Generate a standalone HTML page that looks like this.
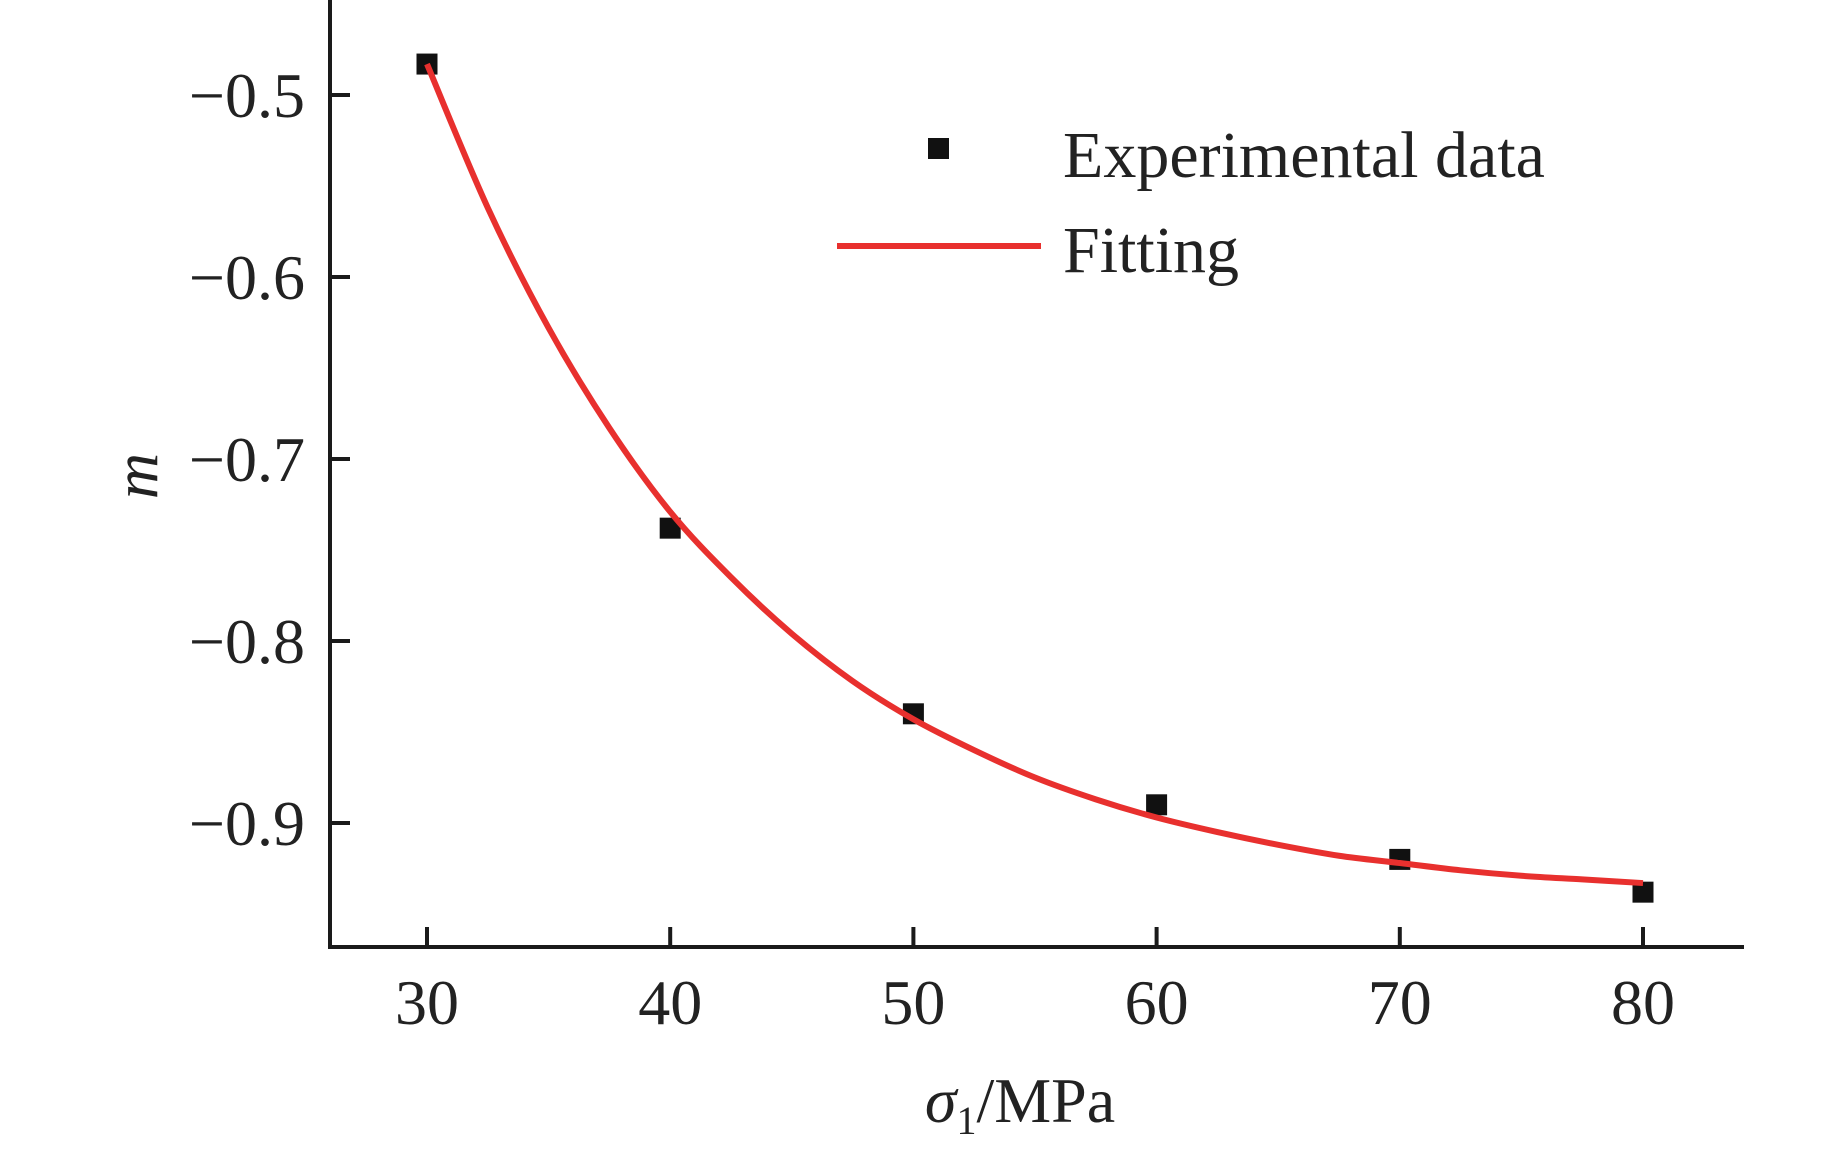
<!DOCTYPE html>
<html><head><meta charset="utf-8"><style>
html,body{margin:0;padding:0;background:#fff;}
svg{display:block;font-family:"Liberation Serif",serif;}
</style></head><body>
<svg id="chart" width="1843" height="1155" viewBox="0 0 1843 1155">
<g id="axes"></g>
<g id="series"></g>
<g id="legend">
  <rect x="928" y="138" width="21" height="21" fill="#111"/>
  <text x="1063" y="177" font-size="66" fill="#222">Experimental data</text>
  <line x1="837" y1="246" x2="1041" y2="246" stroke="#e8302e" stroke-width="6"/>
  <text x="1063" y="272" font-size="66" fill="#222">Fitting</text>
</g>
<text x="143" y="476" font-size="64" font-style="italic" fill="#222" text-anchor="middle" transform="rotate(-90 143 476)" dominant-baseline="middle">m</text>
<text x="1020" y="1122" font-size="64" fill="#222" text-anchor="middle"><tspan font-style="italic">σ</tspan><tspan font-size="40" dy="12">1</tspan><tspan dy="-12">/MPa</tspan></text>
</svg>
<script>
const xCategories = [30, 40, 50, 60, 70, 80];
const expValues = [-0.483, -0.738, -0.840, -0.890, -0.920, -0.938];
const fitX = [30, 32.5, 35, 37.5, 40, 42.5, 45, 47.5, 50, 52.5, 55, 57.5, 60, 62.5, 65, 67.5, 70, 72.5, 75, 77.5, 80];
const fitValues = [-0.483, -0.562, -0.628, -0.683, -0.729, -0.765, -0.796, -0.822, -0.843, -0.860, -0.875, -0.887, -0.897, -0.905, -0.912, -0.918, -0.922, -0.926, -0.929, -0.931, -0.933];
const xTicks = [30, 40, 50, 60, 70, 80];
const yTicks = [-0.5, -0.6, -0.7, -0.8, -0.9];
const yTickLabels = ["\u22120.5", "\u22120.6", "\u22120.7", "\u22120.8", "\u22120.9"];

const NS = "http://www.w3.org/2000/svg";
const X0 = 330, X1 = 1744, YB = 947;
function xs(v){ return 427 + (v - 30) * 24.32; }
function ys(v){ return 95 + (-0.5 - v) * 1820; }
function mk(tag, attrs, parent){ const e = document.createElementNS(NS, tag); for (const k in attrs) e.setAttribute(k, attrs[k]); parent.appendChild(e); return e; }

const axes = document.getElementById('axes');
let el = mk('line', {x1: X0, y1: 0, x2: X0, y2: YB + 2, stroke: '#1a1a1a', 'stroke-width': 4}, axes);


el = mk('line', {x1: X0 - 2, y1: YB, x2: X1, y2: YB, stroke: '#1a1a1a', 'stroke-width': 4}, axes);


xTicks.forEach(function(t){
  const x = xs(t);
  let tk = mk('line', {x1: x, y1: YB, x2: x, y2: YB - 20, stroke: '#1a1a1a', 'stroke-width': 4}, axes);
  
  
  let lb = mk('text', {x: x, y: 1024, 'font-size': 64, fill: '#222', 'text-anchor': 'middle'}, axes);
  lb.textContent = String(t);
  
  
});
yTicks.forEach(function(t, i){
  const y = ys(t);
  let tk = mk('line', {x1: X0, y1: y, x2: X0 + 20, y2: y, stroke: '#1a1a1a', 'stroke-width': 4}, axes);
  
  
  let lb = mk('text', {x: 305, y: y + 22, 'font-size': 64, fill: '#222', 'text-anchor': 'end'}, axes);
  lb.textContent = yTickLabels[i];
  
  
});

const series = document.getElementById('series');
const pts = fitX.map(function(v, i){ return [xs(v), ys(fitValues[i])]; });
let d = 'M' + pts[0][0] + ',' + pts[0][1];
for (let i = 0; i < pts.length - 1; i++){
  const p0 = pts[Math.max(0, i - 1)], p1 = pts[i], p2 = pts[i + 1], p3 = pts[Math.min(pts.length - 1, i + 2)];
  const c1x = p1[0] + (p2[0] - p0[0]) / 6, c1y = p1[1] + (p2[1] - p0[1]) / 6;
  const c2x = p2[0] - (p3[0] - p1[0]) / 6, c2y = p2[1] - (p3[1] - p1[1]) / 6;
  d += ' C' + c1x + ',' + c1y + ' ' + c2x + ',' + c2y + ' ' + p2[0] + ',' + p2[1];
}
xCategories.forEach(function(c, i){
  let r = mk('rect', {x: xs(c) - 10.5, y: ys(expValues[i]) - 10.5, width: 21, height: 21, fill: '#111'}, series);
  
  
});
let path = mk('path', {d: d, fill: 'none', stroke: '#e8302e', 'stroke-width': 6, 'stroke-linecap': 'butt'}, series);


</script>
</body></html>
